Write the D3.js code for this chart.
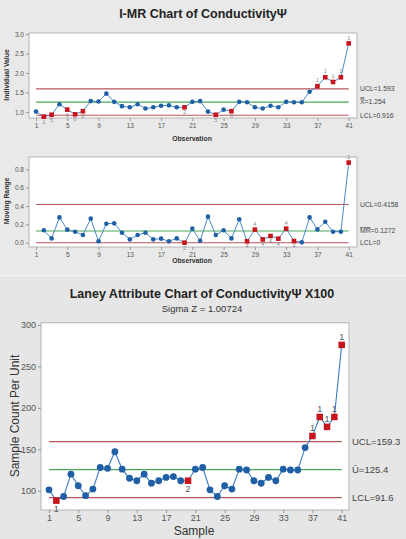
<!DOCTYPE html>
<html><head><meta charset="utf-8">
<script src="https://cdn.jsdelivr.net/npm/d3@7"></script>
<style>html,body{margin:0;padding:0;background:#e8e8e8;}svg{display:block;font-family:"Liberation Sans",Arial,sans-serif;}</style>
</head><body>
<svg id="c" width="406" height="539"></svg>
<script>
// ---------- DATA ----------
const observations = d3.range(1, 42);
const xTicks = [1,5,9,13,17,21,25,29,33,37,41];
const individualValues = [1.01,0.88,0.93,1.20,1.06,0.94,1.02,1.28,1.27,1.47,1.26,1.15,1.12,1.20,1.09,1.12,1.16,1.17,1.12,1.12,1.26,1.28,1.01,0.93,1.06,1.02,1.26,1.25,1.12,1.09,1.16,1.12,1.26,1.25,1.25,1.52,1.66,1.89,1.77,1.89,2.76];
const individualFlags = [null,"1","5",null,"6","6","6",null,null,null,null,null,null,null,null,null,null,null,null,"2",null,null,null,"5",null,"6",null,null,null,null,null,null,null,null,null,null,"1","1","1","1","1"];
const movingRanges = [null,0.135,0.047,0.276,0.142,0.120,0.084,0.262,0.015,0.207,0.211,0.109,0.036,0.084,0.109,0.036,0.044,0.015,0.047,0.000,0.153,0.022,0.284,0.084,0.135,0.047,0.255,0.015,0.142,0.036,0.073,0.044,0.153,0.018,0.004,0.276,0.145,0.229,0.120,0.120,0.873];
const mrFlags = [null,null,null,null,null,null,null,null,null,null,null,null,null,null,null,null,null,null,null,"2",null,null,null,null,null,null,null,"4","4","4","4","4","4","4",null,null,null,null,null,null,"1"];
const laneyCounts = [101,88,93,120,106,94,102,128,127,147,126,115,112,120,109,112,116,117,112,112,126,128,101,93,106,102,126,125,112,109,116,112,126,125,125,152,166,189,177,189,276];
const laneyFlags = [null,"1",null,null,null,null,null,null,null,null,null,null,null,null,null,null,null,null,null,"2",null,null,null,null,null,null,null,null,null,null,null,null,null,null,null,null,"1","1","1","1","1"];
const iLimits = {ucl:1.593, cl:1.254, lcl:0.916};
const mrLimits = {ucl:0.4158, cl:0.1272, lcl:0};
const uLimits = {ucl:159.3, cl:125.4, lcl:91.6};
const iTicks = [1.0,1.5,2.0,2.5,3.0];
const mrTicks = [0.0,0.2,0.4,0.6,0.8];
const uTicks = [100,150,200,250,300];

// ---------- DRAW ----------
const svg = d3.select("#c");
svg.append("rect").attr("x",0).attr("y",0).attr("width",406).attr("height",275).attr("fill","#e9e9e9");
svg.append("rect").attr("x",0).attr("y",275).attr("width",406).attr("height",264).attr("fill","#e6e6e6");
svg.append("line").attr("x1",0).attr("x2",406).attr("y1",275.5).attr("y2",275.5).attr("stroke","#f3f3f3").attr("stroke-width",1.5);

const BLUE_LINE = "#3a7cc0", BLUE_DOT = "#1f5fa6", RED = "#c8141c", LIM_RED = "#b9555a", LIM_GREEN = "#4aa85a";

function panel(o){
  const g = svg.append("g");
  g.append("rect").attr("x",o.fx0).attr("y",o.fy0).attr("width",o.fx1-o.fx0).attr("height",o.fy1-o.fy0)
    .attr("fill","#fff").attr("stroke","#b4b4b4").attr("stroke-width",1);
  const x = d3.scaleLinear().domain([1,41]).range([o.x1,o.x41]);
  const y = d3.scaleLinear().domain(o.yDom).range(o.yRange);
  // axes
  const ya = g.append("g").attr("transform",`translate(${o.fx0},0)`)
    .call(d3.axisLeft(y).tickValues(o.yTicks).tickSize(3).tickPadding(2).tickFormat(o.yFmt));
  const xa = g.append("g").attr("transform",`translate(0,${o.fy1})`)
    .call(d3.axisBottom(x).tickValues(xTicks).tickSize(3).tickPadding(2).tickFormat(d3.format("d")));
  [ya,xa].forEach(a=>{
    a.select(".domain").remove();
    a.selectAll(".tick line").attr("stroke","#999");
    a.selectAll(".tick text").attr("fill","#555").style("font-size",o.tickFs+"px").style("font-family","'Liberation Sans',Arial,sans-serif");
  });
  // limits
  [[o.lim.ucl,LIM_RED],[o.lim.cl,LIM_GREEN],[o.lim.lcl,LIM_RED]].forEach(([v,c])=>{
    g.append("line").attr("x1",x(1)).attr("x2",x(41)).attr("y1",y(v)).attr("y2",y(v))
      .attr("stroke",c).attr("stroke-width",o.limW);
  });
  // limit labels
  o.limLabels.forEach(([txt,v,deco])=>{
    const t = g.append("text").attr("x",o.labX).attr("y",y(v)+o.labFs*0.35).attr("fill","#444")
      .style("font-size",o.labFs+"px");
    if(deco==="over"){
      t.append("tspan").attr("text-decoration","overline").text(txt[0]);
      t.append("tspan").text(txt[1]);
    } else t.text(txt);
  });
  // series
  const pts = observations.map((d,i)=>({obs:d,v:o.values[i],flag:o.flags[i]})).filter(p=>p.v!==null);
  g.append("path").datum(pts).attr("fill","none").attr("stroke",BLUE_LINE).attr("stroke-width",o.lineW)
    .attr("d",d3.line().x(p=>x(p.obs)).y(p=>y(p.v)));
  pts.forEach(p=>{
    if(p.flag){
      g.append("rect").attr("x",x(p.obs)-o.sq/2).attr("y",y(p.v)-o.sq/2).attr("width",o.sq).attr("height",o.sq).attr("fill",RED);
      const above = o.flagAbove(p);
      g.append("text").attr("x",x(p.obs)).attr("y", above ? y(p.v)-o.sq/2-1.5 : y(p.v)+o.sq/2+o.flagFs*0.85)
        .attr("text-anchor","middle").attr("fill",o.flagColor).style("font-size",o.flagFs+"px").text(p.flag);
    } else {
      g.append("circle").attr("cx",x(p.obs)).attr("cy",y(p.v)).attr("r",o.r).attr("fill",BLUE_DOT);
    }
  });
  // axis titles
  g.append("text").attr("x",o.xTitle[0]).attr("y",o.xTitle[1]).attr("text-anchor","middle")
    .attr("fill","#333").style("font-size",o.titleFs+"px").style("font-weight",o.titleW).text(o.xLabel);
  g.append("text").attr("transform",`translate(${o.yTitle[0]},${o.yTitle[1]}) rotate(-90)`).attr("text-anchor","middle")
    .attr("fill","#333").style("font-size",o.titleFs+"px").style("font-weight",o.titleW).text(o.yLabel);
}

// titles
svg.append("text").attr("x",203).attr("y",18).attr("text-anchor","middle").attr("fill","#222")
  .style("font-size","12.5px").style("font-weight","bold").text("I-MR Chart of ConductivityΨ");
svg.append("text").attr("x",202).attr("y",298).attr("text-anchor","middle").attr("fill","#222")
  .style("font-size","12.5px").style("font-weight","bold").text("Laney Attribute Chart of ConductivityΨ X100");
svg.append("text").attr("x",202).attr("y",311.5).attr("text-anchor","middle").attr("fill","#333")
  .style("font-size","9.5px").text("Sigma Z = 1.00724");

const smallCommon = {fx0:29, fx1:357, x1:36, x41:348.7, tickFs:6.5, labFs:6.8, labX:360, limW:1.1, lineW:0.9,
  sq:4.6, r:2.3, flagFs:5.5, flagColor:"#888", titleFs:6.8, titleW:"bold"};

panel(Object.assign({}, smallCommon, {
  fy0:33, fy1:118, yDom:[1,3], yRange:[112,34], yTicks:iTicks, yFmt:d3.format(".1f"),
  lim:iLimits, values:individualValues, flags:individualFlags,
  limLabels:[["UCL=1.593",iLimits.ucl],["X\u033F=1.254",iLimits.cl],["LCL=0.916",iLimits.lcl]],
  flagAbove:p=>p.obs>=37, xLabel:"Observation", xTitle:[192,141], yLabel:"Individual Value", yTitle:[9,75]
}));
panel(Object.assign({}, smallCommon, {
  fy0:157, fy1:247, yDom:[0,0.8], yRange:[242.7,169.3], yTicks:mrTicks, yFmt:d3.format(".1f"),
  lim:mrLimits, values:movingRanges, flags:mrFlags,
  limLabels:[["UCL=0.4158",mrLimits.ucl],[["MR","=0.1272"],mrLimits.cl,"over"],["LCL=0",mrLimits.lcl]],
  flagAbove:p=>p.obs===29||p.obs===33||p.obs===41, xLabel:"Observation", xTitle:[192,263], yLabel:"Moving Range", yTitle:[9,201]
}));
panel({
  fx0:41, fx1:349, x1:49, x41:341.7, fy0:322.7, fy1:510, yDom:[100,300], yRange:[490.7,325], yTicks:uTicks, yFmt:d3.format("d"),
  tickFs:9, labFs:9.5, labX:352, limW:1.3, lineW:1.1, sq:6.5, r:3.4, flagFs:9, flagColor:"#555", titleFs:12, titleW:"normal",
  lim:uLimits, values:laneyCounts, flags:laneyFlags,
  limLabels:[["UCL=159.3",uLimits.ucl],["U\u0304=125.4",uLimits.cl],["LCL=91.6",uLimits.lcl]],
  flagAbove:p=>p.obs>=37, xLabel:"Sample", xTitle:[194,535], yLabel:"Sample Count Per Unit", yTitle:[19,416]
});
</script>
</body></html>
